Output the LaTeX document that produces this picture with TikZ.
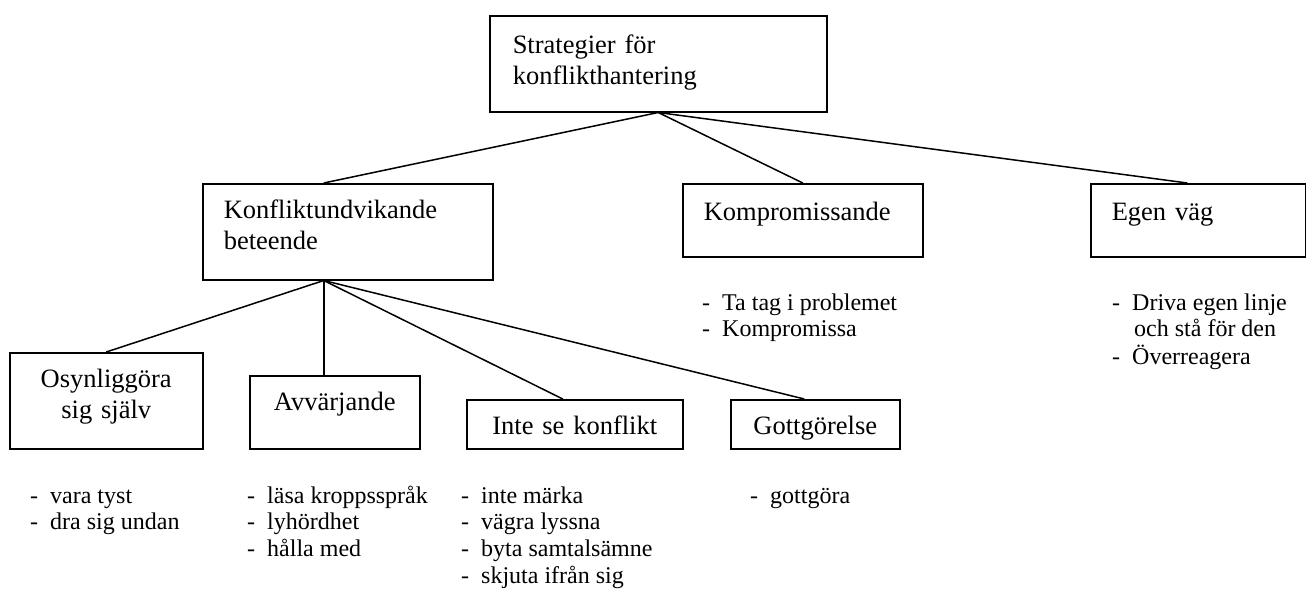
\documentclass[tikz,border=0pt]{standalone}
\usepackage{fontspec}
\setmainfont{Liberation Serif}
\newcommand{\dashitem}[1]{\makebox[20pt][l]{-}#1}
\newcommand{\dashlist}[1]{\begin{tabular}[t]{@{}l@{}}#1\end{tabular}}

\begin{document}
\begin{tikzpicture}[x=1pt, y=-1pt,
  box/.style={draw, line width=1.5pt, anchor=north west, inner ysep=0pt,
              font=\fontsize{26.5}{30.5}\selectfont},
  lbox/.style={box, align=left, inner xsep=21pt},
  cbox/.style={box, align=center, inner xsep=4pt},
  lst/.style={anchor=base west, inner sep=0pt,
              font=\fontsize{24}{26.8}\selectfont},
  ln/.style={line width=1.5pt}
]
\useasboundingbox (0,0) rectangle (1306,589);
\node[lbox, inner xsep=23pt, text width=291pt, text height=38pt, text depth=58pt] (strat) at (489,15) {Strategier för\\konflikthantering};
\node[lbox, text width=248pt, text height=35pt, text depth=61pt] (konf) at (202,183) {Konfliktundvikande\\beteende};
\node[lbox, text width=198pt, text height=37pt, text depth=36pt] (komp) at (682,183) {Kompromissande};
\node[lbox, text width=173pt, text height=37pt, text depth=36pt] (egen) at (1090,183) {Egen väg};
\node[cbox, text width=185pt, text height=35pt, text depth=61pt] (osyn) at (9,352) {Osynliggöra\\sig själv};
\node[cbox, text width=162pt, text height=35pt, text depth=38pt] (avv) at (249,375) {Avvärjande};
\node[cbox, text width=208pt, text height=35pt, text depth=14pt] (inte) at (466,399) {Inte se konflikt};
\node[cbox, text width=161pt, text height=35pt, text depth=14pt] (gott) at (730,399) {Gottgörelse};
\node[lst] (osynlist) at (30,503) {\dashlist{\dashitem{vara tyst}\\\dashitem{dra sig undan}}};
\node[lst] (avvlist) at (247,503) {\dashlist{\dashitem{läsa kroppsspråk}\\\dashitem{lyhördhet}\\\dashitem{hålla med}}};
\node[lst] (intelist) at (461,503) {\dashlist{\dashitem{inte märka}\\\dashitem{vägra lyssna}\\\dashitem{byta samtalsämne}\\\dashitem{skjuta ifrån sig}}};
\node[lst] (gottlist) at (750,503) {\dashlist{\dashitem{gottgöra}}};
\node[lst] (komplist) at (702,310) {\dashlist{\dashitem{Ta tag i problemet}\\\dashitem{Kompromissa}}};
\node[lst] (egenlist) at (1112,310) {\dashlist{\dashitem{Driva egen linje}\\\hspace*{22pt}och stå för den\\\dashitem{Överreagera}}};
\coordinate (ktop) at ([xshift=-24pt]konf.north);
\coordinate (kbot) at ([xshift=-24pt]konf.south);
\draw[ln] (strat.south) -- (ktop);
\draw[ln] (strat.south) -- (komp.north);
\draw[ln] (strat.south) -- ([xshift=-11pt]egen.north);
\draw[ln] (kbot) -- (osyn.north);
\draw[ln] (kbot) -- (kbot |- avv.north);
\draw[ln] (kbot) -- ([xshift=-12pt]inte.north);
\draw[ln] (kbot) -- ([xshift=-11pt]gott.north);
\end{tikzpicture}
\end{document}
